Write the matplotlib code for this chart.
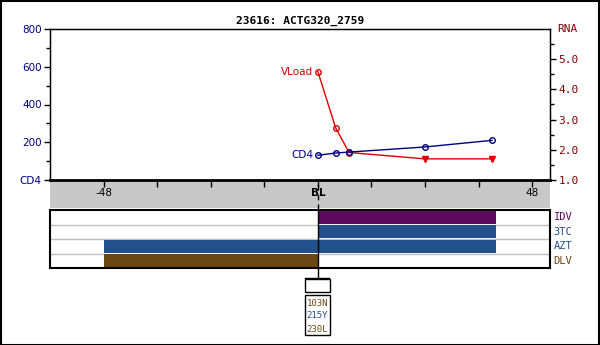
import matplotlib
matplotlib.use("Agg")
import matplotlib.pyplot as plt
from matplotlib.patches import Rectangle
from matplotlib.lines import Line2D
from matplotlib.transforms import blended_transform_factory

# data
title = "23616: ACTG320_2759"
cd4_weeks = [0, 4, 7, 24, 39]
cd4_vals = [131, 143, 148, 175, 210]
vl_weeks = [0, 4, 7, 24, 39]
vl_vals = [4.59, 2.72, 1.91, 1.70, 1.70]
vl_below = [False, False, False, True, True]
drugs = ["IDV", "3TC", "AZT", "DLV"]
drug_start = [0, 0, -48, -48]
drug_stop = [40, 40, 40, 0]
drug_colors = ["#5c0a5e", "#22508a", "#22508a", "#6a4714"]
drug_label_colors = ["#5c0a5e", "#22508a", "#22508a", "#6a4714"]
mutations = ["103N", "215Y", "230L"]
mut_colors = ["#6a4714", "#22508a", "#6a4714"]
xticks = [-48, -36, -24, -12, 0, 12, 24, 36, 48]
xlabels = {-48: "-48", 0: "BL", 48: "48"}

W, H = 600, 345
NAVY = "#000080"
RED = "#dd0000"
DARKRED = "#800000"
MONO = "DejaVu Sans Mono"


def box(left, top, right, bottom):
    return [left / W, 1 - bottom / H, (right - left) / W, (bottom - top) / H]


fig = plt.figure(figsize=(6, 3.45), dpi=100)
fig.patches.append(Rectangle((0.5 / W, 0.5 / H), 1 - 1.5 / W, 1 - 1.5 / H,
                             transform=fig.transFigure, fill=False,
                             edgecolor="black", linewidth=1.5))

# gray band under the main plot
band = fig.add_axes(box(50, 181, 550, 208))
band.set_facecolor("#c8c8c8")
band.set_xlim(-60, 52)
band.set_ylim(0, 1)
for s in band.spines.values():
    s.set_visible(False)
band.set_yticks([])
band.set_xticks(xticks)
band.tick_params(axis="x", top=True, bottom=False, labeltop=False,
                 labelbottom=False, direction="in", length=4, width=1)
for x, lab in xlabels.items():
    band.text(x, 0.55, lab, ha="center", va="center", fontsize=7.5,
              color="black", fontweight="bold" if lab == "BL" else "normal")

# main axes
ax = fig.add_axes(box(50, 29, 550, 180))
ax.set_zorder(3)
ax.set_xlim(-60, 52)
ax.set_ylim(0, 800)
ax.set_xticks([])
ax.set_yticks([0, 200, 400, 600, 800])
ax.set_yticklabels(["CD4", "200", "400", "600", "800"])
ax.set_yticks(range(100, 800, 200), minor=True)
ax.tick_params(axis="y", which="major", length=4, width=1, colors="black",
               labelcolor=NAVY, labelsize=7.5, pad=2)
ax.tick_params(axis="y", which="minor", length=3, width=1)
for s in ax.spines.values():
    s.set_linewidth(1)
ax.spines["bottom"].set_linewidth(2)
ax.set_title(title, fontsize=8, fontweight="bold", family=MONO, pad=4)

ax2 = ax.twinx()
ax2.set_ylim(1, 6)
ax2.set_yticks([1, 2, 3, 4, 5])
ax2.set_yticklabels(["1.0", "2.0", "3.0", "4.0", "5.0"], family=MONO)
ax2.set_yticks([1.5, 2.5, 3.5, 4.5, 5.5], minor=True)
ax2.tick_params(axis="y", which="major", length=4, width=1,
                labelcolor=DARKRED, labelsize=8, pad=2)
ax2.tick_params(axis="y", which="minor", length=3, width=1)
ax2.text(1.015, 1.0, "RNA", transform=ax2.transAxes, ha="left", va="center",
         fontsize=8, color=DARKRED, family=MONO)

ax2.plot(vl_weeks, vl_vals, color=RED, linewidth=1, zorder=2)
for x, y, b in zip(vl_weeks, vl_vals, vl_below):
    if b:
        ax2.plot(x, y, marker="v", color=RED, markersize=5, zorder=3)
    else:
        ax2.plot(x, y, marker="o", markerfacecolor="none", markeredgecolor=RED,
                 markersize=4, markeredgewidth=1, zorder=3)
ax2.plot(cd4_weeks, [1 + v / 160 for v in cd4_vals], color=NAVY, linewidth=1,
         marker="o", markerfacecolor="none", markersize=4, markeredgewidth=1,
         zorder=4)
ax2.text(cd4_weeks[0] - 1.0, 1 + cd4_vals[0] / 160, "CD4", ha="right",
         va="center", fontsize=7.5, color=NAVY)
ax2.text(vl_weeks[0] - 1.0, vl_vals[0], "VLoad", ha="right", va="center",
         fontsize=7.5, color="#cc0000")

# drug panel
dp = fig.add_axes(box(50, 210, 550, 268))
dp.set_xlim(-60, 52)
dp.set_ylim(len(drugs), 0)
dp.set_xticks([])
dp.set_yticks([])
for s in dp.spines.values():
    s.set_linewidth(1.5)
for i in range(1, len(drugs)):
    dp.axhline(i, color="#c0c0c0", linewidth=1, zorder=1)
for i, (name, a, b, c, lc) in enumerate(zip(drugs, drug_start, drug_stop,
                                            drug_colors, drug_label_colors)):
    dp.barh(i + 0.5, b - a, left=a, height=0.92, color=c, zorder=2)
    dp.text(1.007, 1 - (i + 0.5) / len(drugs), name, transform=dp.transAxes,
            ha="left", va="center", fontsize=7.5, color=lc, family=MONO)

# baseline line through everything
tr = blended_transform_factory(ax.transData, fig.transFigure)
fig.lines.append(Line2D([0, 0], [1 - 29 / H, 1 - 210 / H], transform=tr,
                        color="black", linewidth=1, linestyle=(0, (4, 3))))
fig.lines.append(Line2D([0, 0], [1 - 210 / H, 1 - 278 / H], transform=tr,
                        color="black", linewidth=1))
fig.lines.append(Line2D([305 / W, 329 / W], [1 - 278 / H, 1 - 278 / H],
                        transform=fig.transFigure, color="black", linewidth=1))
fig.patches.append(Rectangle((305 / W, 1 - 292 / H), 25 / W, 13 / H,
                             transform=fig.transFigure, fill=False,
                             edgecolor="black", linewidth=1))
fig.patches.append(Rectangle((305 / W, 1 - 335 / H), 25 / W, 40 / H,
                             transform=fig.transFigure, fill=False,
                             edgecolor="black", linewidth=1))
for k, (m, c) in enumerate(zip(mutations, mut_colors)):
    fig.text(317.5 / W, 1 - (303 + 13 * k) / H, m, ha="center", va="center",
             fontsize=6.5, color=c, family=MONO)

fig.savefig("out.png", dpi=100)
